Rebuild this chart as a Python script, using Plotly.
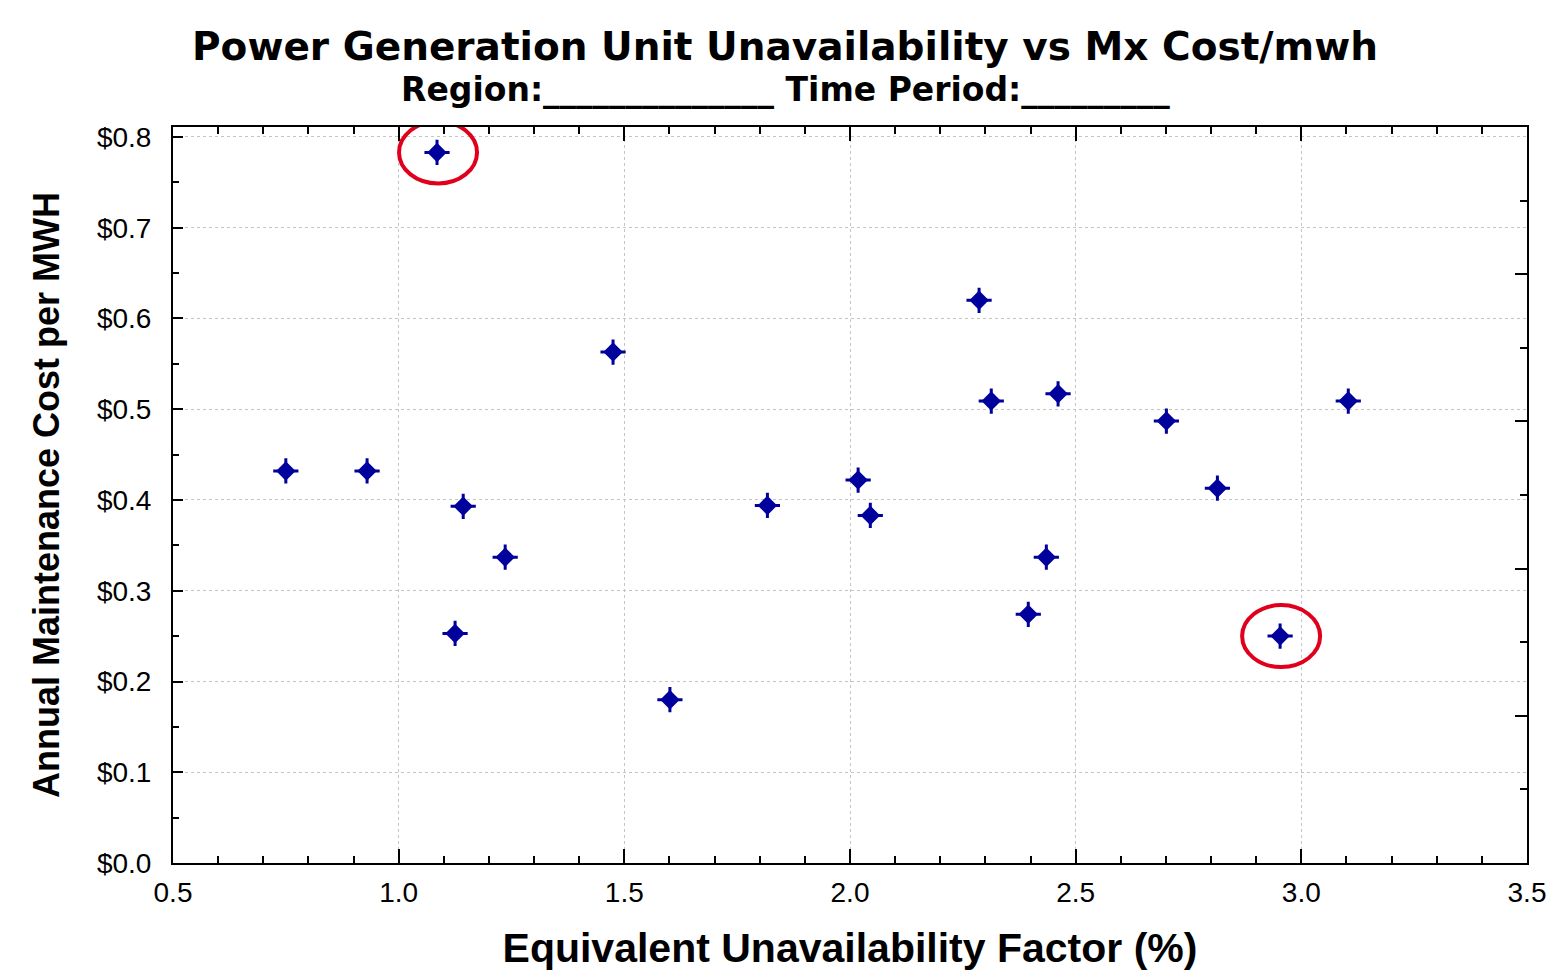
import plotly.graph_objects as go

# equivalent unavailability factor (%) and annual maintenance cost ($/MWH)
euf = [0.75, 0.93, 1.085, 1.143, 1.125, 1.236, 1.475, 1.601, 1.817, 2.018,
       2.045, 2.286, 2.313, 2.461, 2.395, 2.435, 2.701, 2.814, 2.953, 3.104]
cost = [0.432, 0.432, 0.783, 0.393, 0.253, 0.337, 0.563, 0.180, 0.394, 0.422,
        0.383, 0.620, 0.509, 0.517, 0.274, 0.337, 0.487, 0.413, 0.250, 0.509]
highlighted = [2, 18]  # outliers circled in red

title = 'Power Generation Unit Unavailability vs Mx Cost/mwh'
subtitle = 'Region:______________ Time Period:_________'
x_title = 'Equivalent Unavailability Factor (%)'
y_title = 'Annual Maintenance Cost per MWH'

FONT = 'Liberation Sans, Arial, sans-serif'
WIDE = 'DejaVu Sans, Verdana, sans-serif'
BLUE = '#00009c'

fig = go.Figure()
fig.add_trace(go.Scatter(
    x=euf, y=cost, mode='markers', showlegend=False,
    marker=dict(symbol='cross-thin', size=18, line=dict(color=BLUE, width=3)),
    hoverinfo='skip'
))
fig.add_trace(go.Scatter(
    x=euf, y=cost, mode='markers', showlegend=False,
    marker=dict(symbol='diamond', size=15, color=BLUE),
    hovertemplate='EUF: %{x:.2f}%<br>Cost: %{y:$.3f}<extra></extra>'
))
# dummy trace so the right-hand tick axis is drawn
fig.add_trace(go.Scatter(x=[], y=[], yaxis='y2', showlegend=False))

for i in highlighted:
    fig.add_shape(
        type='circle', xref='x', yref='y',
        xsizemode='pixel', ysizemode='pixel',
        xanchor=euf[i], yanchor=cost[i],
        x0=-38, x1=40, y0=-31, y1=31,
        line=dict(color='#e0001b', width=4)
    )

fig.update_layout(
    width=1560, height=976,
    paper_bgcolor='white', plot_bgcolor='white',
    margin=dict(l=165, r=41, t=119, b=121),
    font=dict(family=FONT, color='black'),
    title=dict(text='<b>' + title + '</b>', x=777 / 1560, xanchor='center',
               y=1 - 38 / 976, yanchor='middle', yref='container',
               font=dict(size=39, family=WIDE, color='black')),
    annotations=[dict(text='<b>' + subtitle + '</b>', xref='paper', yref='paper',
                      x=0.5 - 65 / 1354, y=1 + 37 / 736, xanchor='center', yanchor='middle',
                      showarrow=False, font=dict(size=33, family=WIDE, color='black'))],
    xaxis=dict(
        range=[0.5, 3.5], dtick=0.5, tick0=0.5, tickformat='.1f',
        ticks='inside', ticklen=14, tickwidth=2, tickcolor='black',
        minor=dict(dtick=0.1, ticks='inside', ticklen=7, tickwidth=2,
                   tickcolor='black', showgrid=False),
        showline=True, linewidth=2, linecolor='black', mirror='ticks',
        showgrid=True, gridcolor='#c4c4c4', griddash='dot', gridwidth=1,
        zeroline=False, ticklabelstandoff=3,
        tickfont=dict(size=28, family=FONT, color='black'),
        title=dict(text='<b>' + x_title + '</b>', standoff=27,
                   font=dict(size=41, family=FONT, color='black')),
    ),
    yaxis=dict(
        range=[0, 0.811], dtick=0.1, tick0=0, tickformat='$.1f',
        ticks='inside', ticklen=10, tickwidth=2, tickcolor='black',
        minor=dict(dtick=0.05, ticks='inside', ticklen=6, tickwidth=2,
                   tickcolor='black', showgrid=False),
        showline=True, linewidth=2, linecolor='black', mirror=False,
        showgrid=True, gridcolor='#c4c4c4', griddash='dot', gridwidth=1,
        zeroline=False, ticklabelstandoff=14,
        tickfont=dict(size=28, family=FONT, color='black'),
        title=dict(text='<b>' + y_title + '</b>', standoff=26,
                   font=dict(size=36, family=FONT, color='black')),
    ),
    yaxis2=dict(
        overlaying='y', side='right', range=[0, 1], dtick=0.2,
        ticks='inside', ticklen=12, tickwidth=2, tickcolor='black',
        minor=dict(dtick=0.1, ticks='inside', ticklen=7, tickwidth=2,
                   tickcolor='black', showgrid=False),
        showticklabels=False, showgrid=False, zeroline=False,
        showline=True, linewidth=2, linecolor='black',
    ),
)

fig.write_html('out.html')
